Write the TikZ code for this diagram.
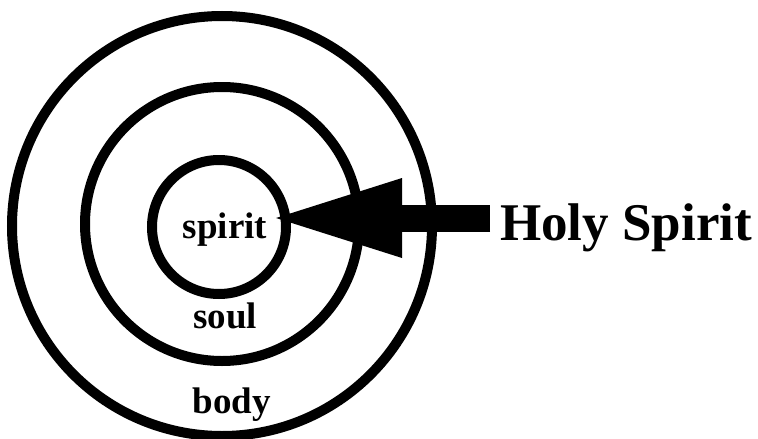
\documentclass[tikz,border=0pt]{standalone}
\usepackage{fontspec}
\setmainfont{Liberation Serif}
\usetikzlibrary{arrows.meta}
\tikzset{
  ring/.style={line width=10pt},
  layer/.style={font=\fontsize{37}{37}\selectfont\bfseries, inner sep=0pt, anchor=base},
  holyarrow/.style={line width=27pt, -{Triangle[length=126pt,width=80pt,line width=0pt]}}
}
\begin{document}
\begin{tikzpicture}[x=1pt,y=-1pt]
\useasboundingbox (0,0) rectangle (758,439);
\coordinate (bodyc) at (222,226);
\coordinate (soulc) at (222,224);
\coordinate (spiritc) at (219,227);
\draw[ring] (bodyc) circle[radius=210];
\draw[ring] (soulc) circle[radius=137];
\draw[ring] (spiritc) circle[radius=67];
\node[layer] (spirit) at (225,238) {spirit};
\node[layer] (soul) at (225,328) {soul};
\node[layer] (body) at (232,413) {body};
\node[font=\fontsize{53}{53}\selectfont\bfseries, inner sep=0pt, anchor=base west] (holy) at (500,240) {Holy Spirit};
\coordinate (tip) at (276,218);
\draw[holyarrow] ([xshift=-10pt]holy.west |- tip) -- (tip);
\end{tikzpicture}
\end{document}
